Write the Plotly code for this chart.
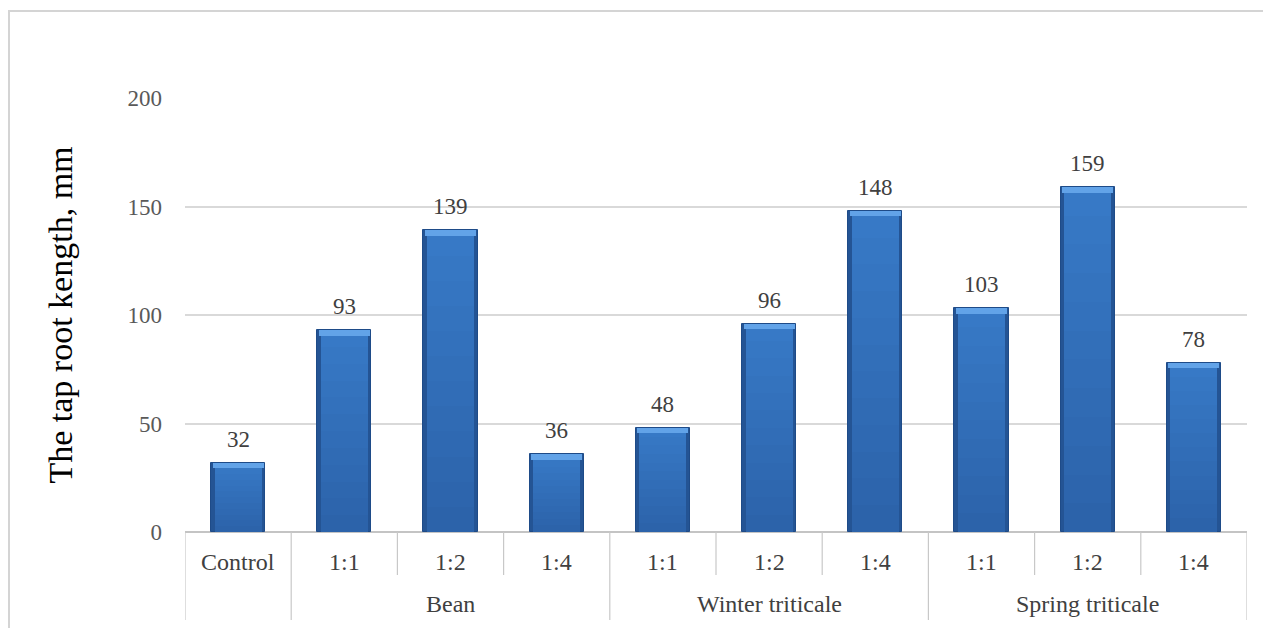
import plotly.graph_objects as go

# Tap root length by treatment
groups = ["", "Bean", "Winter triticale", "Spring triticale"]
group_sizes = [1, 3, 3, 3]
ratios = ["Control", "1:1", "1:2", "1:4", "1:1", "1:2", "1:4", "1:1", "1:2", "1:4"]
root_length = [32, 93, 139, 36, 48, 96, 148, 103, 159, 78]
y_ticks = [0, 50, 100, 150, 200]

FONT = "Liberation Serif"
W, H = 1263, 628
L, R, T, B = 185, 16, 98, 96
plot_w, plot_h = W - L - R, H - T - B

x = list(range(len(ratios)))
bar_w = 0.51
cap = 2.6  # height of the light bevel band at the top of each bar

fig = go.Figure()
# outer body of each bar (dark rim)
fig.add_trace(go.Bar(
    x=x, y=root_length, width=bar_w,
    marker=dict(color="#245494", line=dict(color="#1e4b88", width=1)),
    showlegend=False, hoverinfo="skip",
))
# inner fill, fading gently from light at the top to darker at the bottom
top_rgb = (0x37, 0x79, 0xc6)
bot_rgb = (0x2c, 0x63, 0xaa)
n_bands = 12
for k in range(n_bands):
    frac = 1.0 - k / n_bands
    t = k / (n_bands - 1)
    col = "rgb({},{},{})".format(*[round(a + (b - a) * t) for a, b in zip(top_rgb, bot_rgb)])
    fig.add_trace(go.Bar(
        x=x, y=[v * frac - (cap if k == 0 else 0) for v in root_length],
        width=bar_w * 0.87,
        marker=dict(color=col, line=dict(width=0)),
        showlegend=False, hoverinfo="skip",
    ))
# highlighted top edge
fig.add_trace(go.Bar(
    x=x, y=[cap] * len(x), base=[v - cap for v in root_length], width=bar_w * 0.94,
    marker=dict(color="#62a3e8", line=dict(width=0)),
    showlegend=False, hoverinfo="skip",
))


def py(pix):
    """pixel row -> paper y"""
    return (H - B - pix) / plot_h


def px(pix):
    """pixel column -> paper x"""
    return (pix - L) / plot_w


shapes = []
annotations = []

# value labels above the bars
for i, v in enumerate(root_length):
    annotations.append(dict(x=i, y=v, xref="x", yref="y", text=str(v),
                            showarrow=False, yanchor="bottom", yshift=9,
                            font=dict(family=FONT, size=23, color="#404040")))

# outer chart frame
shapes.append(dict(type="rect", xref="paper", yref="paper",
                   x0=px(9), x1=px(W + 20), y0=py(H + 20), y1=py(11),
                   line=dict(color="#d4d4d4", width=2), layer="below"))

# category dividers below the axis
bounds_long = set()
pos = -0.5
bounds_long.add(pos)
for n in group_sizes:
    pos += n
    bounds_long.add(pos)
for i in range(len(ratios) + 1):
    b = i - 0.5
    y_end = py(620) if b in bounds_long else py(575)
    shapes.append(dict(type="line", xref="x", yref="paper", x0=b, x1=b,
                       y0=0, y1=y_end, line=dict(color="#c8c8c8", width=1.2)))

# inner category labels
for i, lab in enumerate(ratios):
    annotations.append(dict(x=i, y=py(562), xref="x", yref="paper", text=lab,
                            showarrow=False, yanchor="middle",
                            font=dict(family=FONT, size=24, color="#404040")))

# group labels
start = 0
for g, n in zip(groups, group_sizes):
    if g:
        annotations.append(dict(x=start + (n - 1) / 2, y=py(604), xref="x", yref="paper",
                                text=g, showarrow=False, yanchor="middle",
                                font=dict(family=FONT, size=24, color="#404040")))
    start += n

fig.update_layout(
    width=W, height=H,
    margin=dict(l=L, r=R, t=T, b=B, autoexpand=False),
    paper_bgcolor="white", plot_bgcolor="white",
    barmode="overlay", bargap=0,
    shapes=shapes, annotations=annotations,
    xaxis=dict(range=[-0.5, len(ratios) - 0.5], showticklabels=False, showgrid=False,
               zeroline=False, showline=False, ticks=""),
    yaxis=dict(range=[0, 200], tickvals=y_ticks, showgrid=True, gridcolor="#d9d9d9",
               gridwidth=1.5, zeroline=True, zerolinecolor="#c4c4c4", zerolinewidth=2,
               showline=False, ticks="", ticklabelstandoff=22,
               tickfont=dict(family=FONT, size=23, color="#595959"),
               title=dict(text="The tap root kength, mm", standoff=44,
                          font=dict(family=FONT, size=34, color="#000000"))),
)

fig.write_html("out.html")
